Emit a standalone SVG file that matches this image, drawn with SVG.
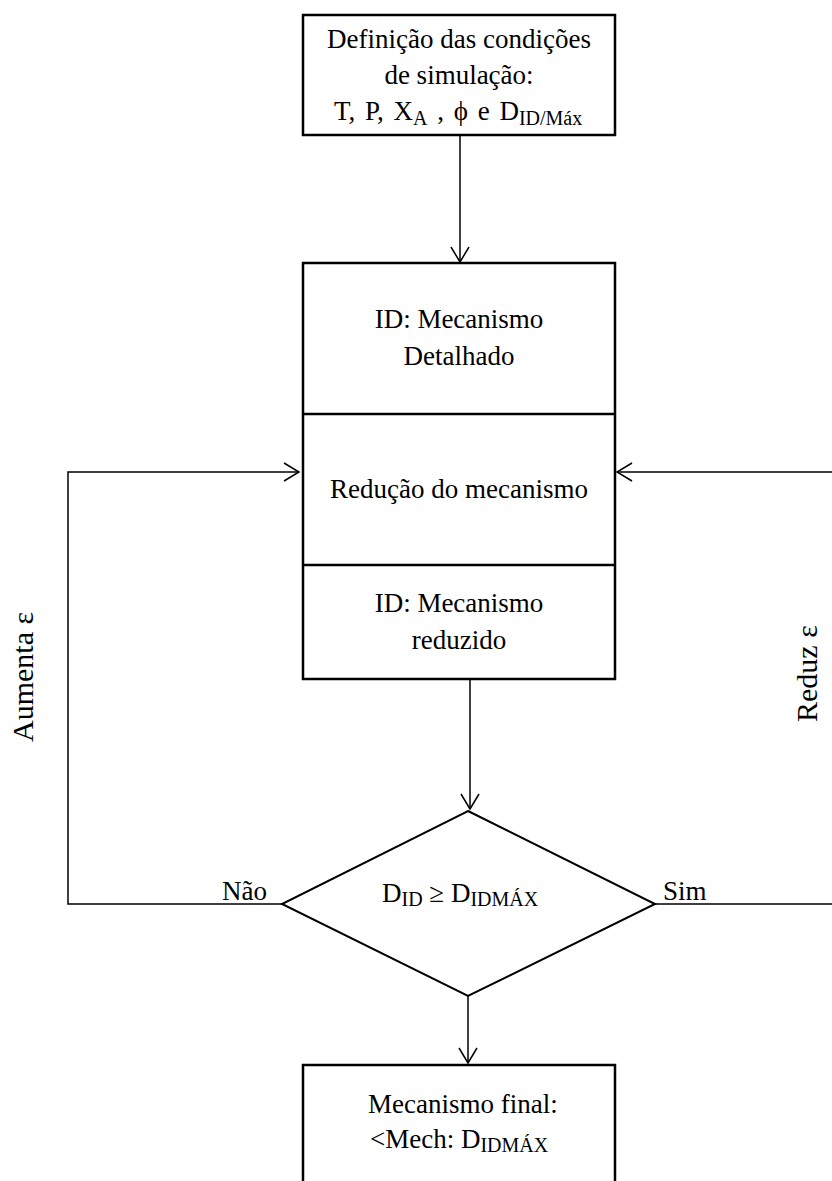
<svg xmlns="http://www.w3.org/2000/svg" width="832" height="1181" viewBox="0 0 832 1181">
<style>
  .box { fill: #fff; stroke: #000; stroke-width: 2.5; }
  .div { stroke: #000; stroke-width: 2.5; }
  .conn { fill: none; stroke: #000; stroke-width: 1.5; }
  .t { font-family: "Liberation Serif", "Times New Roman", serif; font-size: 27px; fill: #000; }
  .side { font-family: "Liberation Serif", "Times New Roman", serif; font-size: 30px; fill: #000; }
  .sub { font-size: 20px; }
</style>
<defs>
  <marker id="arr" markerUnits="userSpaceOnUse" markerWidth="18" markerHeight="22" viewBox="0 0 18 22" refX="16" refY="11" orient="auto">
    <path d="M1,2 L16,11 L1,20" fill="none" stroke="#000" stroke-width="1.5"/>
  </marker>
</defs>
<rect width="832" height="1181" fill="#fff"/>

<g id="connectors">
  <path class="conn" d="M460,135 L460,262" marker-end="url(#arr)"/>
  <path class="conn" d="M470,679 L470,809" marker-end="url(#arr)"/>
  <path class="conn" d="M468,996 L468,1063" marker-end="url(#arr)"/>
  <path class="conn" d="M282,904 L68,904 L68,472 L299,472" marker-end="url(#arr)"/>
  <path class="conn" d="M655,904 L845,904 L845,472 L617,472" marker-end="url(#arr)"/>
</g>

<g id="node-start">
  <rect class="box" x="303" y="15" width="312" height="120"/>
  <text class="t" x="459" y="48" text-anchor="middle">Definição das condições</text>
  <text class="t" x="459" y="84" text-anchor="middle">de simulação:</text>
  <text class="t" x="334" y="120" word-spacing="3">T, P, X<tspan class="sub" dy="5">A</tspan><tspan dy="-5"> , ϕ e D</tspan><tspan class="sub" dy="5">ID/Máx</tspan></text>
</g>

<g id="node-process">
  <rect class="box" x="303" y="263" width="312" height="416"/>
  <line class="div" x1="303" y1="414" x2="615" y2="414"/>
  <line class="div" x1="303" y1="565" x2="615" y2="565"/>
  <text class="t" x="459" y="328" text-anchor="middle">ID: Mecanismo</text>
  <text class="t" x="459" y="365" text-anchor="middle">Detalhado</text>
  <text class="t" x="459" y="498" text-anchor="middle">Redução do mecanismo</text>
  <text class="t" x="459" y="612" text-anchor="middle">ID: Mecanismo</text>
  <text class="t" x="459" y="649" text-anchor="middle">reduzido</text>
</g>

<g id="node-decision">
  <polygon class="box" points="468,811 655,904 468,996 282,904" style="stroke-width:2"/>
  <text class="t" x="382" y="902">D<tspan class="sub" dy="4">ID</tspan><tspan dy="-4"> ≥ D</tspan><tspan class="sub" dy="4">IDMÁX</tspan></text>
</g>

<g id="node-final">
  <rect class="box" x="303" y="1065" width="312" height="150"/>
  <text class="t" x="368" y="1113">Mecanismo final:</text>
  <text class="t" x="370" y="1148">&lt;Mech: D<tspan class="sub" dy="4">IDMÁX</tspan></text>
</g>

<g id="labels">
  <text class="t" x="222" y="900">Não</text>
  <text class="t" x="663" y="900">Sim</text>
  <text class="side" transform="translate(33,742) rotate(-90)">Aumenta ε</text>
  <text class="side" transform="translate(817,722) rotate(-90)">Reduz ε</text>
</g>
</svg>
